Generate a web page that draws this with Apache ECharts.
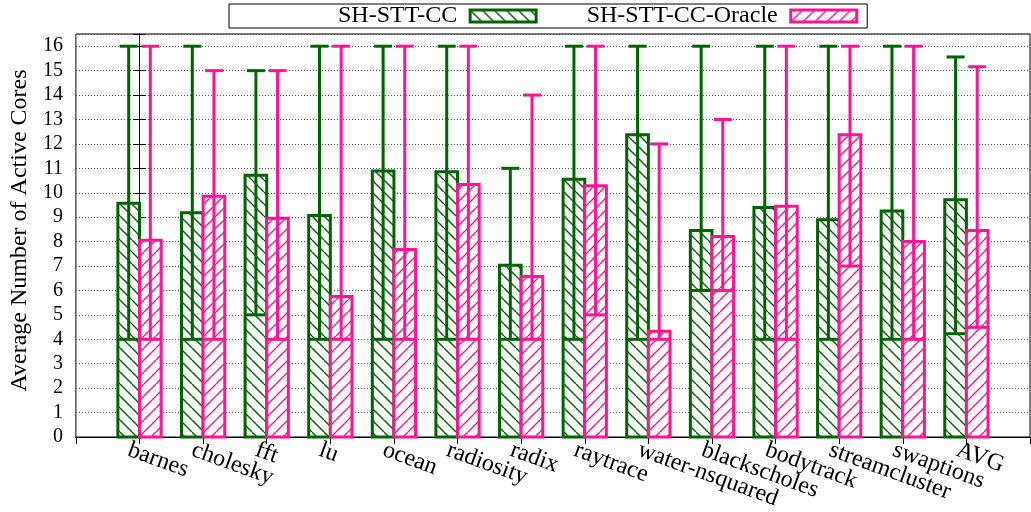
<!DOCTYPE html>
<html><head><meta charset="utf-8">
<script src="https://cdn.jsdelivr.net/npm/echarts@6/dist/echarts.min.js"></script>
<style>html,body{margin:0;padding:0;background:#fff}#c{width:1031px;height:512px}</style>
</head><body><div id="c"></div>
<script>
const categories = ['barnes','cholesky','fft','lu','ocean','radiosity','radix','raytrace','water-nsquared','blackscholes','bodytrack','streamcluster','swaptions','AVG'];
const ccMean = [9.57, 9.18, 10.72, 9.07, 10.89, 10.86, 7.03, 10.55, 12.38, 8.45, 9.40, 8.89, 9.25, 9.71];
const ccMin  = [4, 4, 5, 4, 4, 4, 4, 4, 4, 6, 4, 4, 4, 4.23];
const ccMax  = [16, 16, 15, 16, 16, 16, 11, 16, 16, 16, 16, 16, 16, 15.56];
const oracleMean = [8.06, 9.86, 8.96, 5.75, 7.68, 10.34, 6.57, 10.29, 4.33, 8.21, 9.45, 12.38, 8.00, 8.45];
const oracleMin  = [4, 4, 4, 4, 4, 4, 4, 5, 4, 6, 4, 7, 4, 4.49];
const oracleMax  = [16, 15, 15, 16, 16, 16, 14, 16, 12, 13, 16, 16, 16, 15.16];
const seriesNames = ['SH-STT-CC', 'SH-STT-CC-Oracle'];

const GREEN = '#006400', PINK = '#ff1493';
const FONT = 'Liberation Serif';

function hatch(color, back) {
  const s = 12;
  const c = document.createElement('canvas');
  c.width = s; c.height = s;
  const g = c.getContext('2d');
  g.fillStyle = '#fff'; g.fillRect(0, 0, s, s);
  g.strokeStyle = color; g.lineWidth = 1.4;
  g.beginPath();
  for (const k of [-s, 0, s]) {
    if (back) { g.moveTo(k, 0); g.lineTo(k + s, s); }
    else { g.moveTo(k + s, 0); g.lineTo(k, s); }
  }
  g.stroke();
  return { image: c, repeat: 'repeat' };
}
const patG = hatch(GREEN, true);
const patP = hatch(PINK, false);

function makeRender(color, pattern, offset) {
  return function (params, api) {
    const x = api.value(0) + offset;
    const w = 0.34;
    const a = api.coord([x - w / 2, 0]);
    const b = api.coord([x + w / 2, api.value(1)]);
    const pMin = api.coord([x, api.value(2)]);
    const pMax = api.coord([x, api.value(3)]);
    const cx = pMin[0];
    const capHalf = 9;
    const ls = { stroke: color, lineWidth: 3, fill: null };
    return {
      type: 'group',
      children: [
        { type: 'rect', shape: { x: a[0], y: b[1], width: b[0] - a[0], height: a[1] - b[1] },
          style: { fill: pattern, stroke: color, lineWidth: 3 } },
        { type: 'line', shape: { x1: a[0], y1: pMin[1], x2: b[0], y2: pMin[1] }, style: ls },
        { type: 'line', shape: { x1: cx, y1: pMin[1], x2: cx, y2: pMax[1] }, style: ls },
        { type: 'line', shape: { x1: cx - capHalf, y1: pMax[1], x2: cx + capHalf, y2: pMax[1] }, style: ls }
      ]
    };
  };
}

const chart = echarts.init(document.getElementById('c'), null, { renderer: 'canvas' });
const labelOf = v => (v >= 0 && v < categories.length && Number.isInteger(v)) ? categories[v] : '';
const intLabel = v => Number.isInteger(v) ? String(v) : '';

chart.setOption({
  animation: false,
  backgroundColor: '#fff',
  textStyle: { fontFamily: FONT },
  legend: {
    selectedMode: false,
    left: 229, top: 4,
    orient: 'horizontal',
    align: 'right',
    itemWidth: 66, itemHeight: 12, itemGap: 49,
    padding: [0, 9, 0, 109],
    borderColor: '#000', borderWidth: 1,
    textStyle: { fontFamily: FONT, fontSize: 24, color: '#000', lineHeight: 23, padding: [0, 8, 0, 0] },
    data: [
      { name: seriesNames[0], icon: 'rect', itemStyle: { color: patG, borderColor: GREEN, borderWidth: 3 } },
      { name: seriesNames[1], icon: 'rect', itemStyle: { color: patP, borderColor: PINK, borderWidth: 3 } }
    ]
  },
  grid: [
    { left: 74, right: 1, top: 34, bottom: 75, show: true, borderColor: '#000', borderWidth: 1, backgroundColor: 'transparent' },
    { left: 65, right: 10, top: 34, bottom: 75, show: false }
  ],
  xAxis: [
    { gridIndex: 0, type: 'value', position: 'bottom', min: -1, max: 14, interval: 1,
      axisLine: { show: true, lineStyle: { color: '#000', width: 1 } },
      axisTick: { show: false }, axisLabel: { show: false }, splitLine: { show: false } },
    { gridIndex: 0, type: 'value', position: 'top', min: -1, max: 14, interval: 1,
      axisLine: { show: true, lineStyle: { color: '#000', width: 1 } },
      axisTick: { show: true, inside: true, length: 7, lineStyle: { color: '#000' } },
      axisLabel: { show: false }, splitLine: { show: false } },
    { gridIndex: 1, type: 'value', position: 'bottom', min: -1, max: 14, interval: 1,
      axisLine: { show: false }, axisTick: { show: false }, splitLine: { show: false },
      axisLabel: { show: true, rotate: -20, margin: 17, fontFamily: FONT, fontSize: 24, color: '#000',
        formatter: labelOf } }
  ],
  yAxis: [
    { gridIndex: 0, type: 'value', position: 'left', min: 0, max: 16.5, interval: 1,
      name: 'Average Number of Active Cores', nameLocation: 'middle', nameGap: 40,
      nameTextStyle: { fontFamily: FONT, fontSize: 24, color: '#000', padding: [0, 0, 0, 10] },
      axisLine: { show: true, lineStyle: { color: '#000' } },
      axisTick: { show: true, inside: true, length: 6, lineStyle: { color: '#000' } },
      axisLabel: { fontFamily: FONT, fontSize: 20, color: '#000', margin: 13, formatter: intLabel },
      splitLine: { show: true, lineStyle: { color: '#444', width: 1, type: [1, 2] } } },
    { gridIndex: 0, type: 'value', position: 'right', min: 0, max: 16.5, interval: 1,
      axisLine: { show: true, lineStyle: { color: '#000' } },
      axisTick: { show: true, inside: true, length: 6, lineStyle: { color: '#000' } },
      axisLabel: { show: false }, splitLine: { show: false } },
    { gridIndex: 1, type: 'value', min: 0, max: 16.5, show: false }
  ],
  series: [
    { name: seriesNames[0], type: 'custom', xAxisIndex: 0, yAxisIndex: 0,
      itemStyle: { color: GREEN },
      renderItem: makeRender(GREEN, patG, -0.17),
      data: categories.map((c, i) => [i, ccMean[i], ccMin[i], ccMax[i]]) },
    { name: seriesNames[1], type: 'custom', xAxisIndex: 0, yAxisIndex: 0,
      itemStyle: { color: PINK },
      renderItem: makeRender(PINK, patP, 0.17),
      data: categories.map((c, i) => [i, oracleMean[i], oracleMin[i], oracleMax[i]]) }
  ]
});
</script>
</body></html>
